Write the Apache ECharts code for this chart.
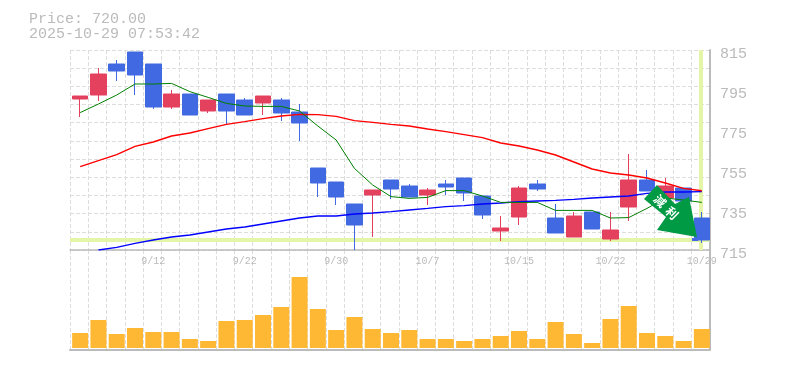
<!DOCTYPE html>
<html><head><meta charset="utf-8">
<style>html,body{margin:0;padding:0;background:#fff}#c{width:785px;height:370px}</style>
<script src="https://cdn.jsdelivr.net/npm/echarts@6/dist/echarts.min.js"></script>
</head><body><div id="c"></div>
<script>
const titleLines = ['Price: 720.00', '2025-10-29 07:53:42'];
const dates = ['9/8','9/9','9/10','9/11','9/12','9/16','9/17','9/18','9/19','9/22','9/24','9/25','9/26','9/29','9/30','10/1','10/2','10/3','10/6','10/7','10/8','10/9','10/10','10/14','10/15','10/16','10/17','10/20','10/21','10/22','10/23','10/24','10/27','10/28','10/29'];
// open, close, low, high
const candles = [
[790.5,792,781.5,792],[792.5,803,789.5,806],[808,804.5,799.5,810],[814,802.5,792.5,814],[808,786.5,785.5,808],
[786.5,793,785.5,795],[793,782.5,782.5,793],[784.5,790,783.5,790],[793,784.5,777.5,793],[790,782.5,782.5,791],
[788.5,792,782.5,792],[790,783.5,779.5,791],[784,778.5,769.5,788],[756,748.5,741.5,756],[749,741.5,737.5,749],
[738,727.5,715,738],[742.5,745,721.5,745],[750,745.5,740.5,750],[747,741.5,741.5,748],[742.5,745,737.5,746],
[748,746.5,742.5,750],[751,743.5,739.5,751],[742,732.5,730.5,742],[724.5,726,719.5,732],[731.5,746,727.5,747],
[748,745.5,744.5,750],[731,723.5,723.5,738],[721.5,732,721.5,734],[734,725.5,725.5,734],[720.5,725,719.5,734],
[736.5,750,729.5,763],[750,744.5,744.5,755],[741,747,741,751],[746,739.5,739.5,746],[731,720,718.5,734]];
const volumes = [15,28,14,20,16,16,9,7,27,28,33,41,71,39,18,31,19,15,18,9,9,7,9,12,17,9,26,14,5,29,42,15,12,7,19];
const maShort = [783.7,788,792.5,798,798,798.3,794.2,791.3,788.3,787,786.8,786.8,784.5,777,770,755.8,747.5,741.7,740.8,741.3,744.7,744.7,742,738.8,738.8,738.8,734.8,734.8,734.8,731,731.2,735.8,741,740,738.8];
const maMid = [756.7,759.7,762.7,766.8,769,772,773.5,775.7,777.8,779.2,780.7,782,782.8,782.7,781.8,779.7,778.8,777.8,777,775.5,774.2,772.7,771.2,768.5,767,765,762.5,759,755.5,753.5,752.5,751,748.5,745.8,744.6];
const maLong = [null,715,716.3,718.3,720,721.5,722.5,724,725.5,726.5,728,729.5,731,732,732,733,733.5,734.2,735,735.8,736.7,737.2,738,738.5,739.2,739.5,739.8,740.3,741,741.5,742,743.3,744,744,744.2];
const priceTicks = [715,735,755,775,795,815];
const priceMin = 715, priceMax = 815, volumeMax = 93;
const lastPrice = 720, lastSlot = 34.5, hGridCount = 11, vGridCount = 35;
const stampText = ['減','利'];
const mono = '"Liberation Mono", monospace';
const gray = '#bbbbbb', gridGray = '#dddddd', hl = '#e4f5a8';

const chart = echarts.init(document.getElementById('c'), null, {renderer:'canvas'});
const line = (data, color, w) => ({type:'line', xAxisIndex:0, yAxisIndex:0, data, symbol:'none', smooth:false, z:4,
  lineStyle:{color, width:w}, itemStyle:{color}, silent:true, animation:false});
const dashed = {show:true, lineStyle:{color:gridGray, type:[4,2], width:1}};
const noAxis = {axisLine:{show:false}, axisTick:{show:false}, axisLabel:{show:false}, splitLine:{show:false}};
chart.setOption({
  animation:false, backgroundColor:'#fff',
  title:{text:titleLines.join('\n'), left:24, top:7, textStyle:{fontFamily:mono, fontSize:15, fontWeight:'normal', color:gray, lineHeight:15}},
  grid:[
    {left:71, top:50, width:640, height:200},
    {left:71, top:255, width:640, height:93},
    {left:70, top:50, width:639.5, height:200},
    {left:70, top:250, width:639.5, height:100},
    {left:71, top:54, width:640, height:200}
  ],
  xAxis:[
    {type:'category', gridIndex:0, data:dates, boundaryGap:true, ...noAxis,
      axisLabel:{show:true, interval:(i)=>i%5===4, fontFamily:mono, fontSize:10, color:gray, margin:6, hideOverlap:false, showMaxLabel:true}},
    {type:'category', gridIndex:1, data:dates, ...noAxis},
    {type:'value', gridIndex:2, min:0, max:vGridCount, interval:1, ...noAxis, splitLine:dashed,
      axisLine:{show:true, onZero:false, lineStyle:{color:gray, width:1.5}}},
    {type:'value', gridIndex:3, min:0, max:vGridCount, interval:1, ...noAxis, splitLine:dashed,
      axisLine:{show:true, onZero:false, lineStyle:{color:gray, width:2}}},
    {type:'category', gridIndex:4, data:dates, ...noAxis}
  ],
  yAxis:[
    {type:'value', gridIndex:0, min:priceMin, max:priceMax, ...noAxis},
    {type:'value', gridIndex:1, min:0, max:volumeMax, ...noAxis},
    {type:'value', gridIndex:2, min:0, max:hGridCount, interval:1, ...noAxis, splitLine:dashed},
    {type:'value', gridIndex:2, min:priceMin, max:priceMax, ...noAxis},
    {type:'value', gridIndex:3, position:'right', min:0, max:1, ...noAxis,
      axisLine:{show:true, onZero:false, lineStyle:{color:gray, width:2}}},
    {type:'value', gridIndex:2, position:'right', min:0, max:1, ...noAxis,
      axisLine:{show:true, onZero:false, lineStyle:{color:gray, width:2}}},
    {type:'value', gridIndex:4, position:'right', min:priceMin, max:priceMax, ...noAxis,
      axisLabel:{show:true, customValues:priceTicks, fontFamily:mono, fontSize:15, color:gray, margin:9}}
  ],
  series:[
    {type:'line', xAxisIndex:2, yAxisIndex:3, data:[], symbol:'none', z:1, silent:true,
      markLine:{silent:true, symbol:'none', animation:false, label:{show:false}, z:1,
        lineStyle:{color:hl, width:4, type:'solid'},
        data:[{yAxis:lastPrice},{xAxis:lastSlot}]}},
    {type:'candlestick', xAxisIndex:0, yAxisIndex:0, data:candles, barWidth:16, z:3, silent:true,
      itemStyle:{color:'#e4415f', color0:'#4169e1', borderColor:'#e4415f', borderColor0:'#4169e1', borderWidth:1}},
    line(maLong,'#0000ff',1.4), line(maMid,'#ff0000',1.4), line(maShort,'#008000',1),
    {type:'bar', xAxisIndex:1, yAxisIndex:1, data:volumes, barWidth:16, z:3, silent:true, itemStyle:{color:'#ffb833'}}
  ],
  graphic:[
    {type:'rect', z:99, shape:{x:692, y:238, width:6, height:3}, style:{fill:'#4169e1'}},
    {type:'polygon', z:100, shape:{points:[[644,199],[657,185],[675,204],[689,197],[697,237],[657,230],[666,217]]}, style:{fill:'#009944'}},
    {type:'text', z:101, x:660, y:201, rotation:-Math.PI/4, style:{text:stampText[0], fill:'#fff', font:'bold 12px "Noto Sans CJK JP"', align:'center', verticalAlign:'middle'}},
    {type:'text', z:101, x:672, y:213, rotation:-Math.PI/4, style:{text:stampText[1], fill:'#fff', font:'bold 12px "Noto Sans CJK JP"', align:'center', verticalAlign:'middle'}}
  ]
});
</script></body></html>
